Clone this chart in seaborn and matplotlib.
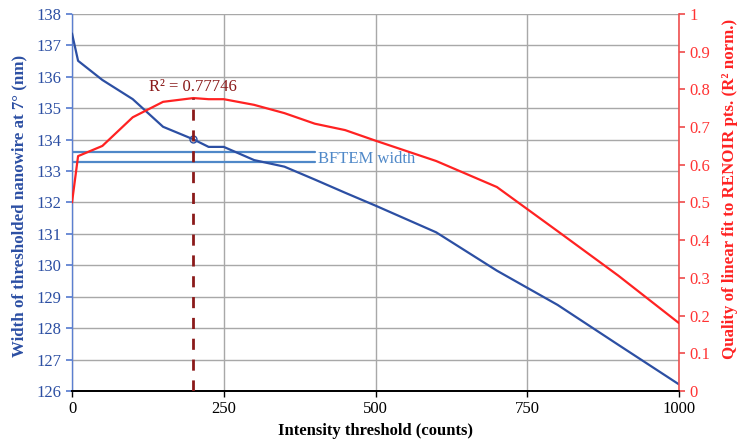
import matplotlib
matplotlib.use("Agg")
import matplotlib.pyplot as plt
import seaborn as sns
import pandas as pd

# Data
threshold = [0, 10, 50, 100, 150, 200, 225, 250, 300, 350, 400, 450, 500, 600, 700, 800, 900, 1000]
width_nm = [137.38, 136.51, 135.9, 135.29, 134.41, 134.01, 133.77, 133.77, 133.35, 133.14,
            132.73, 132.31, 131.9, 131.05, 129.83, 128.74, 127.47, 126.21]
r2_norm = [0.50, 0.623, 0.65, 0.726, 0.767, 0.777, 0.774, 0.774, 0.759, 0.737,
           0.709, 0.692, 0.664, 0.610, 0.541, 0.424, 0.306, 0.18]
bftem_levels = [133.6, 133.3]
bftem_x = [0, 400]
best_threshold = 200
best_r2 = 0.77746
x_ticks = [0, 250, 500, 750, 1000]
left_ticks = list(range(126, 139))
right_ticks = [0, 0.1, 0.2, 0.3, 0.4, 0.5, 0.6, 0.7, 0.8, 0.9, 1]

df = pd.DataFrame({"threshold": threshold, "width": width_nm, "r2": r2_norm})

sns.set_theme(style="white")
plt.rcParams["font.family"] = ["Liberation Serif", "DejaVu Serif"]

BLUE = "#2C4FA3"
LBLUE = "#4F88C8"
RED = "#FF2222"
DRED = "#8B1A1A"
GRID = "#A8A8A8"

fig = plt.figure(figsize=(7.37, 4.47), dpi=100)
ax = fig.add_axes([0.0977, 0.1253, 0.8236, 0.8434])
ax2 = ax.twinx()

ax.set_xlim(0, 1000)
ax.set_ylim(126, 138)
ax2.set_ylim(0, 1)

ax.set_xticks(x_ticks)
ax.set_yticks(left_ticks)
ax2.set_yticks(right_ticks)
ax2.set_yticklabels([f"{t:g}" for t in right_ticks])

ax.grid(True, color=GRID, linewidth=1.0)
ax.set_axisbelow(True)

# BFTEM width lines
for lv in bftem_levels:
    ax.plot(bftem_x, [lv, lv], color=LBLUE, linewidth=1.6, zorder=2)
ax.text(405, sum(bftem_levels) / 2 - 0.06, "BFTEM width", color=LBLUE, fontsize=12,
        va="center", ha="left")

sns.lineplot(data=df, x="threshold", y="width", ax=ax, color=BLUE, linewidth=1.6, zorder=3)
sns.lineplot(data=df, x="threshold", y="r2", ax=ax2, color=RED, linewidth=1.6, zorder=3)

# best threshold marker
bw = df.loc[df["threshold"] == best_threshold, "width"].iloc[0]
ax.plot([best_threshold], [bw], marker="o", markersize=5, markerfacecolor="none",
        markeredgecolor=BLUE, markeredgewidth=1.0, zorder=4)
ax2.vlines(best_threshold, 0, best_r2, colors=DRED, linestyles=(0, (4, 3.5)), linewidth=2.0, zorder=5)
ax2.text(best_threshold - 1, best_r2 + 0.008, f"R² = {best_r2:.5f}", color=DRED, fontsize=12,
         ha="center", va="bottom")

ax.set_xlabel("Intensity threshold (counts)", fontsize=12, fontweight="bold", color="black",
              labelpad=4)
ax.set_ylabel("Width of thresholded nanowire at 7° (nm)", fontsize=12.2, fontweight="bold",
              color=BLUE)
ax.yaxis.set_label_coords(-0.074, 0.49)
ax2.set_ylabel("Quality of linear fit to RENOIR pts. (R² norm.)", fontsize=12.2,
               fontweight="bold", color=RED)
ax2.yaxis.set_label_coords(1.071, 0.535)

ax.tick_params(axis="x", colors="black", labelsize=12, direction="out", length=4, width=1, bottom=True)
ax.tick_params(axis="y", colors="#5B7FD0", labelcolor=BLUE, labelsize=12, direction="out", length=4, left=True)
ax2.tick_params(axis="y", colors="#F05050", labelcolor="#FF3333", labelsize=12, direction="out", length=4, right=True)

for a in (ax, ax2):
    a.spines["top"].set_visible(False)
    a.spines["left"].set_color("#5B7FD0")
    a.spines["right"].set_color("#F05050")
    a.spines["bottom"].set_color("black")
    a.spines["left"].set_linewidth(1.0)
    a.spines["right"].set_linewidth(1.2)
ax2.spines["left"].set_visible(False)
ax.spines["right"].set_visible(False)

fig.savefig("out.png", dpi=100)
